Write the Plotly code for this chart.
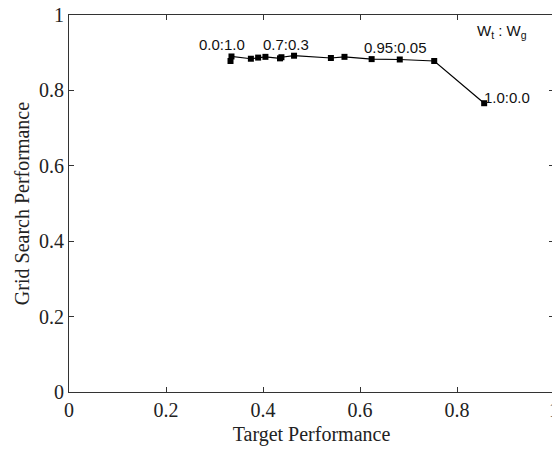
import plotly.graph_objects as go

# Trade-off between target-task weight (W_t) and grid-search weight (W_g)
target_perf = [0.333, 0.335, 0.375, 0.390, 0.405, 0.435, 0.438, 0.464,
               0.540, 0.568, 0.624, 0.682, 0.753, 0.856]
grid_perf = [0.878, 0.890, 0.884, 0.887, 0.889, 0.885, 0.888, 0.892,
             0.886, 0.889, 0.883, 0.882, 0.878, 0.766]

# Weight-ratio annotations and where they sit
ratio_text = ["0.0:1.0", "0.7:0.3", "0.95:0.05", "1.0:0.0"]
ratio_x = [0.315, 0.447, 0.674, 0.903]
ratio_y = [0.923, 0.923, 0.913, 0.781]

tick_vals = [0, 0.2, 0.4, 0.6, 0.8, 1]
tick_text = ["0", "0.2", "0.4", "0.6", "0.8", "1"]

serif = dict(family="Liberation Serif, Times New Roman, serif", size=20, color="#222")
sans = dict(family="Liberation Sans, Arial, sans-serif", size=15, color="#111")

fig = go.Figure()
fig.add_trace(go.Scatter(
    x=target_perf, y=grid_perf, mode="lines+markers",
    line=dict(color="black", width=1.2),
    marker=dict(symbol="square", size=6, color="black"),
    showlegend=False,
))

for t, x, y in zip(ratio_text, ratio_x, ratio_y):
    fig.add_annotation(x=x, y=y, text=t, showarrow=False, font=sans,
                       xref="x", yref="y")

fig.add_annotation(x=0.892, y=0.955, xref="x", yref="y", showarrow=False,
                   text="W<sub>t</sub> : W<sub>g</sub>", font=sans)

axis_common = dict(
    showgrid=False, zeroline=False, showline=True, linecolor="#333",
    linewidth=1, mirror="ticks", ticks="inside", ticklen=5,
    tickcolor="#333", tickfont=serif, tickvals=tick_vals, ticktext=tick_text,
    ticklabeloverflow="allow", automargin=False,
)

fig.update_xaxes(range=[0, 1], title=dict(text="Target Performance",
                 font=serif, standoff=6), **axis_common)
fig.update_yaxes(range=[0, 1], title=dict(text="Grid Search Performance",
                 font=serif, standoff=4), **axis_common)

fig.update_layout(
    width=557, height=449,
    margin=dict(l=69, r=3, t=15, b=57, autoexpand=False),
    paper_bgcolor="white", plot_bgcolor="white",
)

fig.write_html("out.html", post_script="document.body.style.overflow='hidden';")
